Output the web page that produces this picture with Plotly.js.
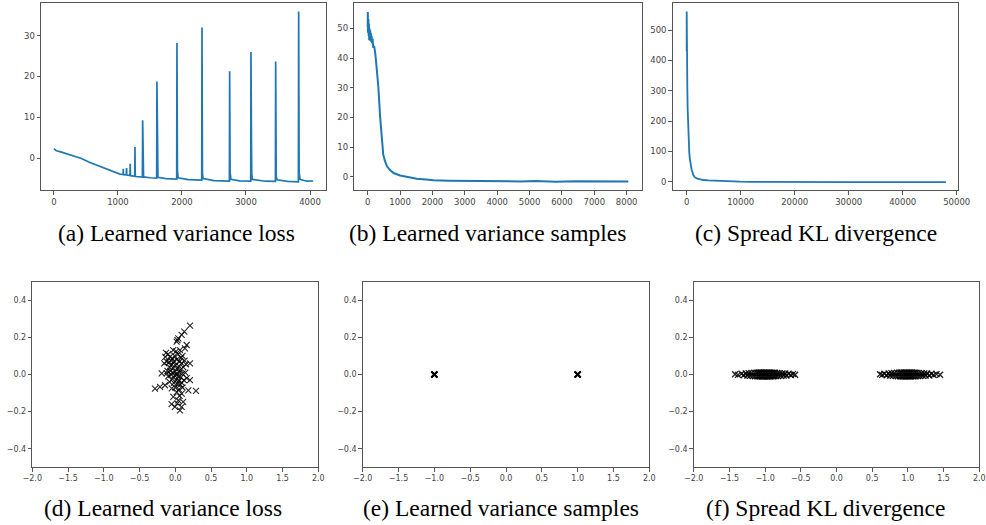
<!DOCTYPE html>
<html>
<head>
<meta charset="utf-8">
<script src="https://cdn.plot.ly/plotly-3.0.1.min.js"></script>
<style>
html,body{margin:0;padding:0;background:#fff;}
#chart{width:986px;height:525px;}
</style>
</head>
<body>
<div id="chart"></div>
<script>
// (a) Learned variance loss
const lossX = [0,15,40,94,200,302,430,562,700,823,930,1031,1075,
  1081,1083,1086,1130,1135,1138,1188,1192,1195,
  1262,1266,1269,1274,1330,
  1382,1386,1389,1393,1400,1500,
  1605,1609,1612,1616,1625,1750,
  1918,1922,1925,1929,1940,2100,
  2309,2313,2316,2320,2332,2500,
  2741,2745,2748,2752,2765,2900,
  3074,3078,3081,3085,3090,3100,3300,
  3460,3464,3467,3472,3485,3650,
  3819,3823,3826,3830,3845,3950,4050];
const lossY = [2.3,2.1,1.8,1.6,1.1,0.56,-0.1,-1.07,-1.9,-2.7,-3.3,-3.9,-4.0,
  -4.0,-2.6,-4.05,-4.1,-2.4,-4.15,-4.25,-1.4,-4.3,
  -4.45,2.7,-3.5,-4.5,-4.6,
  -4.65,9.3,2.0,-3.8,-4.6,-4.8,
  -4.9,18.8,7.5,-3.0,-4.7,-5.0,
  -5.15,28.2,12.0,-3.0,-4.8,-5.25,
  -5.4,32.0,3.0,-4.0,-5.0,-5.5,
  -5.6,21.3,7.0,-3.5,-5.2,-5.55,
  -5.6,26.0,10.0,5.0,-4.0,-5.2,-5.65,
  -5.7,23.7,3.5,-4.5,-5.3,-5.7,
  -5.8,35.9,13.0,-3.5,-5.2,-5.65,-5.6];

// (b) Learned variance samples
const sampX = [0,4,8,12,18,24,30,38,46,55,64,74,84,96,108,120,134,150,170,200,240,281,331,383,434,480,537,600,690,800,1000,1200,1514,1800,2029,2500,2956,3500,4000,4707,5200,5800,6400,7000,7600,8050];
const sampY = [50.5,55.5,48.5,54.5,50,53,47.5,51.5,46,50,47,49.5,45.8,48.5,45.5,47.5,45,46.5,43.5,44,41,37,30,20.3,11.5,7.5,5.2,3.5,2.3,1.3,0.5,0,-0.6,-0.9,-1.1,-1.25,-1.35,-1.4,-1.45,-1.5,-1.4,-1.6,-1.45,-1.55,-1.5,-1.55];

// (c) Spread KL divergence
const klX = [0,3,6,10,15,25,40,60,80,100,123,180,247,300,370,480,617,750,926,1235,1500,1852,2400,3086,4000,4938,6000,8000,9877,12000,15000,20000,30000,40000,48000];
const klY = [430,561,470,540,420,520,440,500,430,420,303,240,193,155,127,95,72,52,38.5,22,15,11,7.5,5.5,4.2,3.3,2,0.8,0,-0.5,-1,-1.3,-1.5,-1.6,-1.7];

// (d) samples, learned variance loss
const dX = [0.205,0.126,0.089,0.042,0.019,0.030,0.159,0.135,-0.130,-0.030,0.065,0.010,-0.100,-0.075,0.100,0.040,-0.040,0.205,-0.154,0.150,
  -0.120,-0.090,-0.060,-0.020,0.020,0.060,0.090,-0.050,0.000,0.050,0.110,-0.080,-0.030,0.030,0.070,-0.110,0.000,0.060,0.100,-0.190,
  -0.120,-0.060,-0.010,0.040,0.080,0.160,0.205,-0.040,0.010,0.050,0.120,-0.080,-0.020,0.030,0.070,-0.284,-0.214,-0.144,0.289,0.182,
  0.089,-0.028,0.000,0.050,-0.050,0.100,0.020,0.060,-0.051,-0.005,0.065,0.089,0.110,0.042,0.030,-0.070,0.020,0.130,-0.010,0.080,
  -0.100,0.090,0.140,-0.140,-0.030];
const dY = [0.263,0.231,0.213,0.195,0.177,0.185,0.159,0.141,0.117,0.131,0.131,0.125,0.110,0.095,0.100,0.110,0.085,0.060,0.060,0.055,
  0.070,0.065,0.075,0.070,0.080,0.070,0.060,0.055,0.050,0.045,0.040,0.040,0.035,0.030,0.025,0.020,0.015,0.010,0.005,0.006,
  0.006,0.000,-0.005,-0.010,-0.015,-0.020,-0.030,-0.025,-0.030,-0.035,-0.030,-0.040,-0.045,-0.050,-0.055,-0.076,-0.067,-0.058,-0.088,-0.085,
  -0.103,-0.121,-0.070,-0.080,-0.075,-0.070,-0.095,-0.115,-0.160,-0.175,-0.193,-0.175,-0.148,-0.139,-0.155,0.020,0.000,0.075,0.100,0.090,
  -0.010,-0.045,0.010,0.095,0.010];

// (e) samples, learned variance samples
const eX = [-1,-1,-1,1,1,1];
const eY = [0,0.001,-0.001,0,0.001,-0.001];

// (f) samples, spread KL divergence
const fLeftX = [-1.42,-1.38,-1.33,-1.30,-1.27,-1.25,-1.23,-1.21,-1.19,-1.17,-1.15,-1.14,-1.12,-1.11,-1.10,-1.09,-1.08,-1.07,-1.06,-1.05,
  -1.04,-1.03,-1.02,-1.01,-1.00,-0.99,-0.98,-0.97,-0.96,-0.95,-0.94,-0.93,-0.92,-0.91,-0.90,-0.89,-0.88,-0.87,-0.86,-0.85,
  -0.83,-0.82,-0.80,-0.78,-0.76,-0.74,-0.72,-0.70,-0.67,-0.64,-0.61,-0.58];
const fLeftY = [0.001,-0.002,0.004,-0.004,0.006,-0.006,0.007,-0.007,0.008,-0.008,
  0.009,-0.009,0.010,-0.010,0.009,-0.010,0.011,-0.010,0.011,-0.011,
  0.010,-0.011,0.011,-0.011,0.010,-0.010,0.011,-0.011,0.010,-0.010,
  0.011,-0.011,0.010,-0.009,0.010,-0.010,0.009,-0.009,0.009,-0.008,
  0.008,-0.008,0.007,-0.007,0.006,-0.006,0.005,-0.005,0.004,-0.003,0.002,-0.001];
const fRightX = [0.61,0.64,0.67,0.70,0.73,0.75,0.77,0.79,0.81,0.83,0.85,0.86,0.88,0.89,0.90,0.91,0.92,0.93,0.94,0.95,
  0.96,0.97,0.98,0.99,1.00,1.01,1.02,1.03,1.04,1.05,1.06,1.07,1.08,1.09,1.10,1.11,1.12,1.14,1.15,1.17,
  1.19,1.21,1.23,1.25,1.27,1.30,1.33,1.36,1.40,1.45];
const fRightY = [0.001,-0.002,0.004,-0.004,0.006,-0.006,0.007,-0.007,0.008,-0.008,
  0.009,-0.009,0.010,-0.010,0.011,-0.011,0.010,-0.010,0.011,-0.011,
  0.010,-0.010,0.011,-0.011,0.010,-0.010,0.011,-0.011,0.010,-0.010,
  0.011,-0.010,0.010,-0.009,0.010,-0.009,0.009,-0.008,0.008,-0.008,
  0.007,-0.007,0.006,-0.006,0.005,-0.005,0.004,-0.003,0.002,-0.001];

const captions = ["(a) Learned variance loss","(b) Learned variance samples","(c) Spread KL divergence",
  "(d) Learned variance loss","(e) Learned variance samples","(f) Spread KL divergence"];

const W = 986, H = 525;
const px = v => v / W;
const py = v => 1 - v / H;

const blue = '#1f77b4';
const lineTrace = (x, y, ax, w) => ({x, y, type:'scatter', mode:'lines', xaxis:'x'+ax, yaxis:'y'+ax,
  line:{color:blue, width:w}, hoverinfo:'skip'});
const xTrace = (x, y, ax, size, lw) => ({x, y, type:'scatter', mode:'markers', xaxis:'x'+ax, yaxis:'y'+ax,
  marker:{symbol:'x-thin', size:size, color:'#000', line:{color:'rgba(0,0,0,0.85)', width:lw}}, hoverinfo:'skip'});

const data = [
  lineTrace(lossX, lossY, '', 1.7),
  lineTrace(sampX, sampY, '2', 2),
  lineTrace(klX, klY, '3', 1.8),
  xTrace(dX, dY, '4', 6, 1.1),
  xTrace(eX, eY, '5', 6, 1.8),
  xTrace(fLeftX.concat(fRightX), fLeftY.concat(fRightY), '6', 6, 1.4)
];

const base = {
  showline:true, mirror:true, linecolor:'#555', linewidth:1,
  ticks:'outside', ticklen:3.5, tickwidth:1, tickcolor:'#555',
  tickfont:{family:'DejaVu Sans', size:8.5, color:'#444'},
  showgrid:false, zeroline:false, fixedrange:true
};
const ax = (o) => Object.assign({}, base, o);

const topY = [py(190), py(3)];
const botY = [py(467.3), py(281.7)];
const botX = {range:[-2,2], tickvals:[-2,-1.5,-1,-0.5,0,0.5,1,1.5,2], tickformat:'.1f',
  tickfont:{family:'DejaVu Sans', size:8, color:'#444'}};
const botYax = {range:[-0.5,0.5], tickvals:[-0.4,-0.2,0,0.2,0.4], tickformat:'.1f',
  tickfont:{family:'DejaVu Sans', size:8, color:'#444'}};

const layout = {
  width:W, height:H, margin:{l:0,r:0,t:0,b:0},
  paper_bgcolor:'#fff', plot_bgcolor:'#fff', showlegend:false,
  xaxis: ax({domain:[px(41), px(326)], range:[-202,4250], tickvals:[0,1000,2000,3000,4000], tickformat:'d', anchor:'y'}),
  yaxis: ax({domain:topY, range:[-7.8,38], tickvals:[0,10,20,30], anchor:'x'}),
  xaxis2: ax({domain:[px(354.3), px(641.7)], range:[-414,8464], tickvals:[0,1000,2000,3000,4000,5000,6000,7000,8000], tickformat:'d', anchor:'y2'}),
  yaxis2: ax({domain:topY, range:[-4.4,58.5], tickvals:[0,10,20,30,40,50], anchor:'x2'}),
  xaxis3: ax({domain:[px(672.7), px(958.3)], range:[-2590,50300], tickvals:[0,10000,20000,30000,40000,50000], tickformat:'d', anchor:'y3'}),
  yaxis3: ax({domain:topY, range:[-27.4,589], tickvals:[0,100,200,300,400,500], anchor:'x3'}),
  xaxis4: ax(Object.assign({domain:[px(32.3), px(318.3)], anchor:'y4'}, botX)),
  yaxis4: ax(Object.assign({domain:botY, anchor:'x4'}, botYax)),
  xaxis5: ax(Object.assign({domain:[px(362.7), px(649.3)], anchor:'y5'}, botX)),
  yaxis5: ax(Object.assign({domain:botY, anchor:'x5'}, botYax)),
  xaxis6: ax(Object.assign({domain:[px(693.7), px(979.3)], anchor:'y6'}, botX)),
  yaxis6: ax(Object.assign({domain:botY, anchor:'x6'}, botYax)),
  annotations: []
};

const capPos = [[176,233],[487,233],[816,233],[163,508],[501,508],[825,508]];
captions.forEach((t, i) => {
  layout.annotations.push({text:t, xref:'paper', yref:'paper', x:px(capPos[i][0]), y:py(capPos[i][1]),
    xanchor:'center', yanchor:'middle', showarrow:false,
    font:{family:'"Liberation Serif", "Times New Roman", Times, serif', size:23.5, color:'#000'}});
});

Plotly.newPlot('chart', data, layout, {staticPlot:true, displayModeBar:false});
</script>
</body>
</html>
